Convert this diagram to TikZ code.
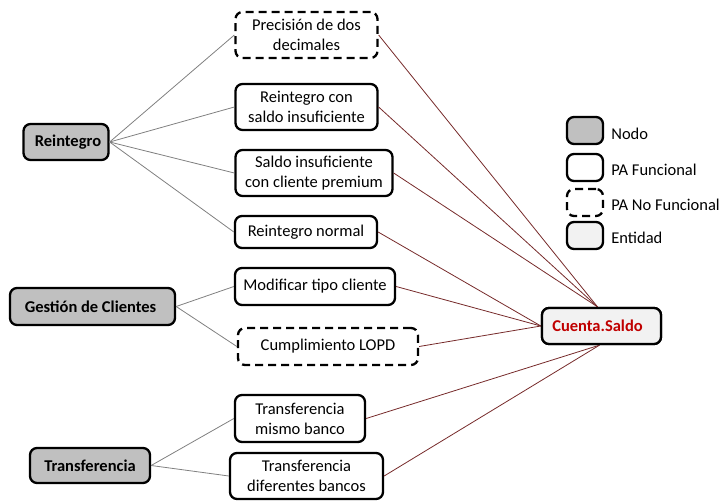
\documentclass[tikz,border=0pt]{standalone}
\usepackage{fontspec}
\setmainfont{Carlito}
\definecolor{nodegray}{RGB}{192,192,192}
\definecolor{entfill}{RGB}{242,242,242}
\definecolor{enttext}{RGB}{192,0,0}
\definecolor{linegray}{RGB}{128,128,128}
\definecolor{linered}{RGB}{118,42,42}
\begin{document}
\begin{tikzpicture}[x=1pt,y=-1pt,
  box/.style={draw=black, line width=2.3pt, rounded corners=7pt, align=center,
    inner sep=0pt, font=\fontsize{16.5}{20}\selectfont, fill=white},
  nodo/.style={box, fill=nodegray, font=\fontsize{16.5}{20}\selectfont\bfseries},
  pa/.style={box},
  panf/.style={box, dash pattern=on 8pt off 5pt},
  ent/.style={box, fill=entfill, text=enttext, font=\fontsize{16.5}{20}\selectfont\bfseries},
  lg/.style={box, minimum width=36pt, minimum height=27pt},
  lgtext/.style={anchor=west, inner sep=0pt, font=\fontsize{16.5}{20}\selectfont},
  gl/.style={draw=linegray, line width=0.8pt},
  rl/.style={draw=linered, line width=0.8pt}]
\useasboundingbox (0,0) rectangle (720,501);

% left nodes
\node[nodo, minimum width=85pt, minimum height=36pt] (rei) at (66,142) {\hspace*{4pt}Reintegro};
\node[nodo, minimum width=165pt, minimum height=37pt] (gc) at (92.5,306.5) {Gestión de Clientes\hspace*{4pt}};
\node[nodo, minimum width=120pt, minimum height=35pt] (tr) at (90,465.5) {Transferencia};

% middle nodes
\node[panf, minimum width=142pt, minimum height=46pt] (prec) at (306.5,35) {Precisión de dos\\decimales};
\node[pa, minimum width=142pt, minimum height=46pt] (rcs) at (306.5,107) {Reintegro con\\saldo insuficiente};
\node[pa, minimum width=157pt, minimum height=46pt] (sicp) at (314,173) {Saldo insuficiente\\con cliente premium};
\node[pa, minimum width=142pt, minimum height=32pt] (rn) at (306,232) {Reintegro normal};
\node[pa, minimum width=160pt, minimum height=37pt] (mtc) at (315,286.5) {Modificar tipo cliente};
\node[panf, minimum width=180pt, minimum height=37pt] (lopd) at (328,346.5) {Cumplimiento LOPD};
\node[pa, minimum width=130pt, minimum height=47pt] (tmb) at (300,418.5) {Transferencia\\mismo banco};
\node[pa, minimum width=153pt, minimum height=46pt] (tdb) at (306.5,476) {Transferencia\\diferentes bancos};

% entity
\node[ent, minimum width=119pt, minimum height=36pt] (cs) at (601.5,326) {Cuenta.Saldo\hspace*{8pt}};

% gray connectors
\draw[gl] (rei.east) -- (prec.west);
\draw[gl] (rei.east) -- (rcs.west);
\draw[gl] (rei.east) -- (sicp.west);
\draw[gl] (rei.east) -- (rn.west);
\draw[gl] (gc.east) -- (mtc.west);
\draw[gl] (gc.east) -- (lopd.west);
\draw[gl] (tr.east) -- (tmb.west);
\draw[gl] (tr.east) -- (tdb.west);

% red connectors
\draw[rl] (prec.east) -- ([xshift=-4pt]cs.north);
\draw[rl] (rcs.east) -- ([xshift=-4pt]cs.north);
\draw[rl] (sicp.east) -- ([xshift=-4pt]cs.north);
\draw[rl] (rn.east) -- (cs.west);
\draw[rl] (mtc.east) -- (cs.west);
\draw[rl] (lopd.east) -- (cs.west);
\draw[rl] (tmb.east) -- ([xshift=-2pt]cs.south);
\draw[rl] (tdb.east) -- ([xshift=-2pt]cs.south);

% redraw entity on top
\node[ent, minimum width=119pt, minimum height=36pt] at (cs.center) {Cuenta.Saldo\hspace*{8pt}};

% legend
\node[lg, fill=nodegray] (l1) at (585,130.5) {};
\node[lg] (l2) at (585,167.5) {};
\node[lg, dash pattern=on 8pt off 5pt] (l3) at (585,202.5) {};
\node[lg, fill=entfill] (l4) at (585,235.5) {};
\node[lgtext] (t1) at ([xshift=7pt,yshift=-3pt]l1.east) {Nodo};
\node[lgtext] (t2) at ([xshift=7pt,yshift=-2pt]l2.east) {PA Funcional};
\node[lgtext] (t3) at ([xshift=7pt,yshift=-2pt]l3.east) {PA No Funcional};
\node[lgtext] (t4) at ([xshift=7pt,yshift=-2pt]l4.east) {Entidad};
\end{tikzpicture}
\end{document}
